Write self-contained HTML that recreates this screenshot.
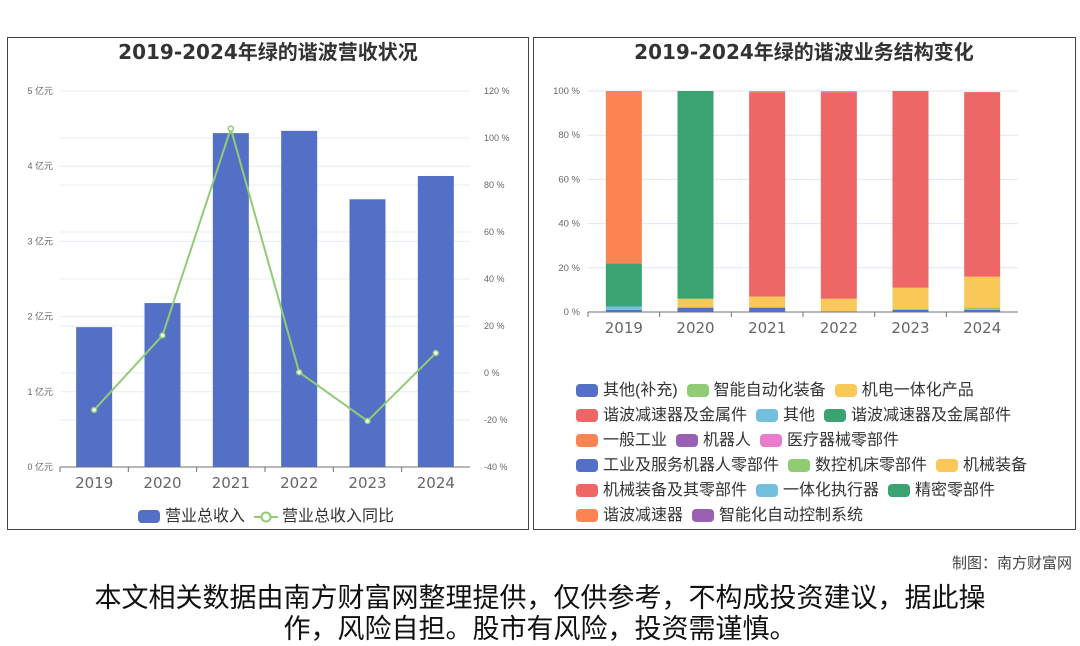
<!DOCTYPE html>
<html><head><meta charset="utf-8"><style>
body{margin:0;width:1080px;height:646px;background:#fff;position:relative;overflow:hidden;font-family:"Liberation Sans","Noto Sans CJK SC",sans-serif}
svg{position:absolute;left:0;top:0}
.leg{position:absolute;display:flex;flex-wrap:wrap;font-size:16px;color:#333;line-height:25px}
.li{display:flex;align-items:center;margin-right:9px;white-space:nowrap}
.sw{width:22px;height:13px;border-radius:4px;margin-right:5px;display:inline-block}
.disc{position:absolute;left:0;width:1080px;text-align:center;font-size:27px;color:#111;line-height:31px}
</style></head><body>
<svg id="s" width="1080" height="646" font-family="Liberation Sans, Noto Sans CJK SC, sans-serif">
<rect x="7.5" y="37.5" width="521" height="492" fill="none" stroke="#444"/>
<rect x="533.5" y="37.5" width="542" height="492" fill="none" stroke="#444"/>
<text x="268" y="59" text-anchor="middle" font-size="20" font-weight="bold" fill="#333" font-family="DejaVu Sans, Noto Sans CJK SC, sans-serif">2019-2024年绿的谐波营收状况</text>
<text x="804" y="59" text-anchor="middle" font-size="20" font-weight="bold" fill="#333" font-family="DejaVu Sans, Noto Sans CJK SC, sans-serif">2019-2024年绿的谐波业务结构变化</text>
<g id="L"></g><g id="R"></g>
</svg>
<div class="leg" style="left:138px;top:504px">
 <div class="li"><span class="sw" style="background:#5470c6"></span>营业总收入</div>
 <div class="li"><svg width="24" height="14" style="position:static;margin-right:4px"><line x1="0" y1="7" x2="24" y2="7" stroke="#91cc75" stroke-width="2"/><circle cx="12" cy="7" r="4.5" fill="#fff" stroke="#91cc75" stroke-width="2"/></svg>营业总收入同比</div>
</div>
<div class="leg" id="rleg" style="left:576px;top:378px;width:480px"></div>
<div style="position:absolute;right:8px;top:552px;font-size:15px;color:#444">制图：南方财富网</div>
<div class="disc" style="top:583px">本文相关数据由南方财富网整理提供，仅供参考，不构成投资建议，据此操<br>作，风险自担。股市有风险，投资需谨慎。</div>
<script>
const years=['2019','2020','2021','2022','2023','2024'];
const revenue=[1.86,2.18,4.44,4.47,3.56,3.87];
const yoy=[-15.7,16,104,0.3,-20.4,8.5];
const leftTicks=[0,1,2,3,4,5];
const rightTicks=[-40,-20,0,20,40,60,80,100,120];
const seriesNames=['其他(补充)','智能自动化装备','机电一体化产品','谐波减速器及金属件','其他','谐波减速器及金属部件','一般工业','机器人','医疗器械零部件','工业及服务机器人零部件','数控机床零部件','机械装备','机械装备及其零部件','一体化执行器','精密零部件','谐波减速器','智能化自动控制系统'];
const seriesColors=['#5470c6','#91cc75','#fac858','#ee6666','#73c0de','#3ba272','#fc8452','#9a60b4','#ea7ccc','#5470c6','#91cc75','#fac858','#ee6666','#73c0de','#3ba272','#fc8452','#9a60b4'];
const sOther2=[1,2,2,0,1,1];
const sAuto=[0,0,0,0,0.5,1];
const sMech=[0,4,5,6,9.5,14];
const sHarmMetal=[0,0,92.5,93.5,89,83.5];
const sOther=[1.5,0,0.5,0.5,0,0];
const sHarmParts=[19.5,94,0,0,0,0];
const sGeneral=[78,0,0,0,0,0];
const stackSeries=[sOther2,sAuto,sMech,sHarmMetal,sOther,sHarmParts,sGeneral];
const NS='http://www.w3.org/2000/svg';
function mk(p,t,a){const e=document.createElementNS(NS,t);for(const k in a)e.setAttribute(k,a[k]);p.appendChild(e);return e;}
const L=document.getElementById('L');
const x0=60,x1=470,yb=467,yt=91;
const bw=(x1-x0)/years.length;
const yL=v=>yb-(v/5)*(yb-yt);
const yR=v=>yb-((v+40)/160)*(yb-yt);
rightTicks.forEach(t=>{const g=mk(L,'line',{x1:x0,x2:x1,y1:yR(t),y2:yR(t),stroke:'#e8ecf5'});

const tx=mk(L,'text',{x:484,y:yR(t)+3,'font-size':9,fill:'#666'});tx.textContent=t+' %';
});
leftTicks.forEach(t=>{const g=mk(L,'line',{x1:x0,x2:x1,y1:yL(t),y2:yL(t),stroke:'#e8ecf5'});

const tx=mk(L,'text',{x:53,y:yL(t)+3,'font-size':9,fill:'#666','text-anchor':'end'});tx.textContent=t+' 亿元';
});
years.forEach((y,i)=>{const cx=x0+bw*(i+0.5);
const r=mk(L,'rect',{x:cx-18,y:yL(revenue[i]),width:36,height:yb-yL(revenue[i]),fill:'#5470c6'});

const tx=mk(L,'text',{x:cx,y:488,'font-size':15,fill:'#666','text-anchor':'middle','font-family':'DejaVu Sans, sans-serif'});tx.textContent=y;

const tk=mk(L,'line',{x1:x0+bw*i,x2:x0+bw*i,y1:yb,y2:yb+5,stroke:'#6e7079'});
});
const ax=mk(L,'line',{x1:x0,x2:x1,y1:yb,y2:yb,stroke:'#6e7079'});

const ln=mk(L,'polyline',{points:yoy.map((v,i)=>(x0+bw*(i+0.5))+','+yR(v)).join(' '),fill:'none',stroke:'#91cc75','stroke-width':2});

yoy.forEach((v,i)=>{const c=mk(L,'circle',{cx:x0+bw*(i+0.5),cy:yR(v),r:2.5,fill:'#fff',stroke:'#91cc75','stroke-width':1.5});
});
const R=document.getElementById('R');
const rx0=588,rx1=1018,rb=312,rt=91;
const rw=(rx1-rx0)/years.length;
const yP=v=>rb-(v/100)*(rb-rt);
[0,20,40,60,80,100].forEach(t=>{const g=mk(R,'line',{x1:rx0,x2:rx1,y1:yP(t),y2:yP(t),stroke:'#e0e6f1'});

const tx=mk(R,'text',{x:580,y:yP(t)+3,'font-size':9.5,fill:'#666','text-anchor':'end'});tx.textContent=t+' %';
});
years.forEach((y,i)=>{const cx=rx0+rw*(i+0.5);let acc=0;
stackSeries.forEach((s,k)=>{const v=s[i];if(v>0){const r=mk(R,'rect',{x:cx-18,y:yP(acc+v),width:36,height:yP(acc)-yP(acc+v),fill:seriesColors[k]});
}acc+=v;});
const tx=mk(R,'text',{x:cx,y:333,'font-size':15,fill:'#666','text-anchor':'middle','font-family':'DejaVu Sans, sans-serif'});tx.textContent=y;

const tk=mk(R,'line',{x1:rx0+rw*i,x2:rx0+rw*i,y1:rb,y2:rb+5,stroke:'#6e7079'});
});
const rax=mk(R,'line',{x1:rx0,x2:rx1,y1:rb,y2:rb,stroke:'#6e7079'});

const rl=document.getElementById('rleg');
const rows=[[0,1,2],[3,4,5],[6,7,8],[9,10,11],[12,13,14],[15,16]];
rows.forEach(r=>{const row=document.createElement('div');row.style.cssText='display:flex;width:100%';


r.forEach(k=>{const d=document.createElement('div');d.className='li';


d.innerHTML='<span class="sw" style="background:'+seriesColors[k]+'"></span>'+seriesNames[k];row.appendChild(d);});
rl.appendChild(row);});
</script>
</body></html>
